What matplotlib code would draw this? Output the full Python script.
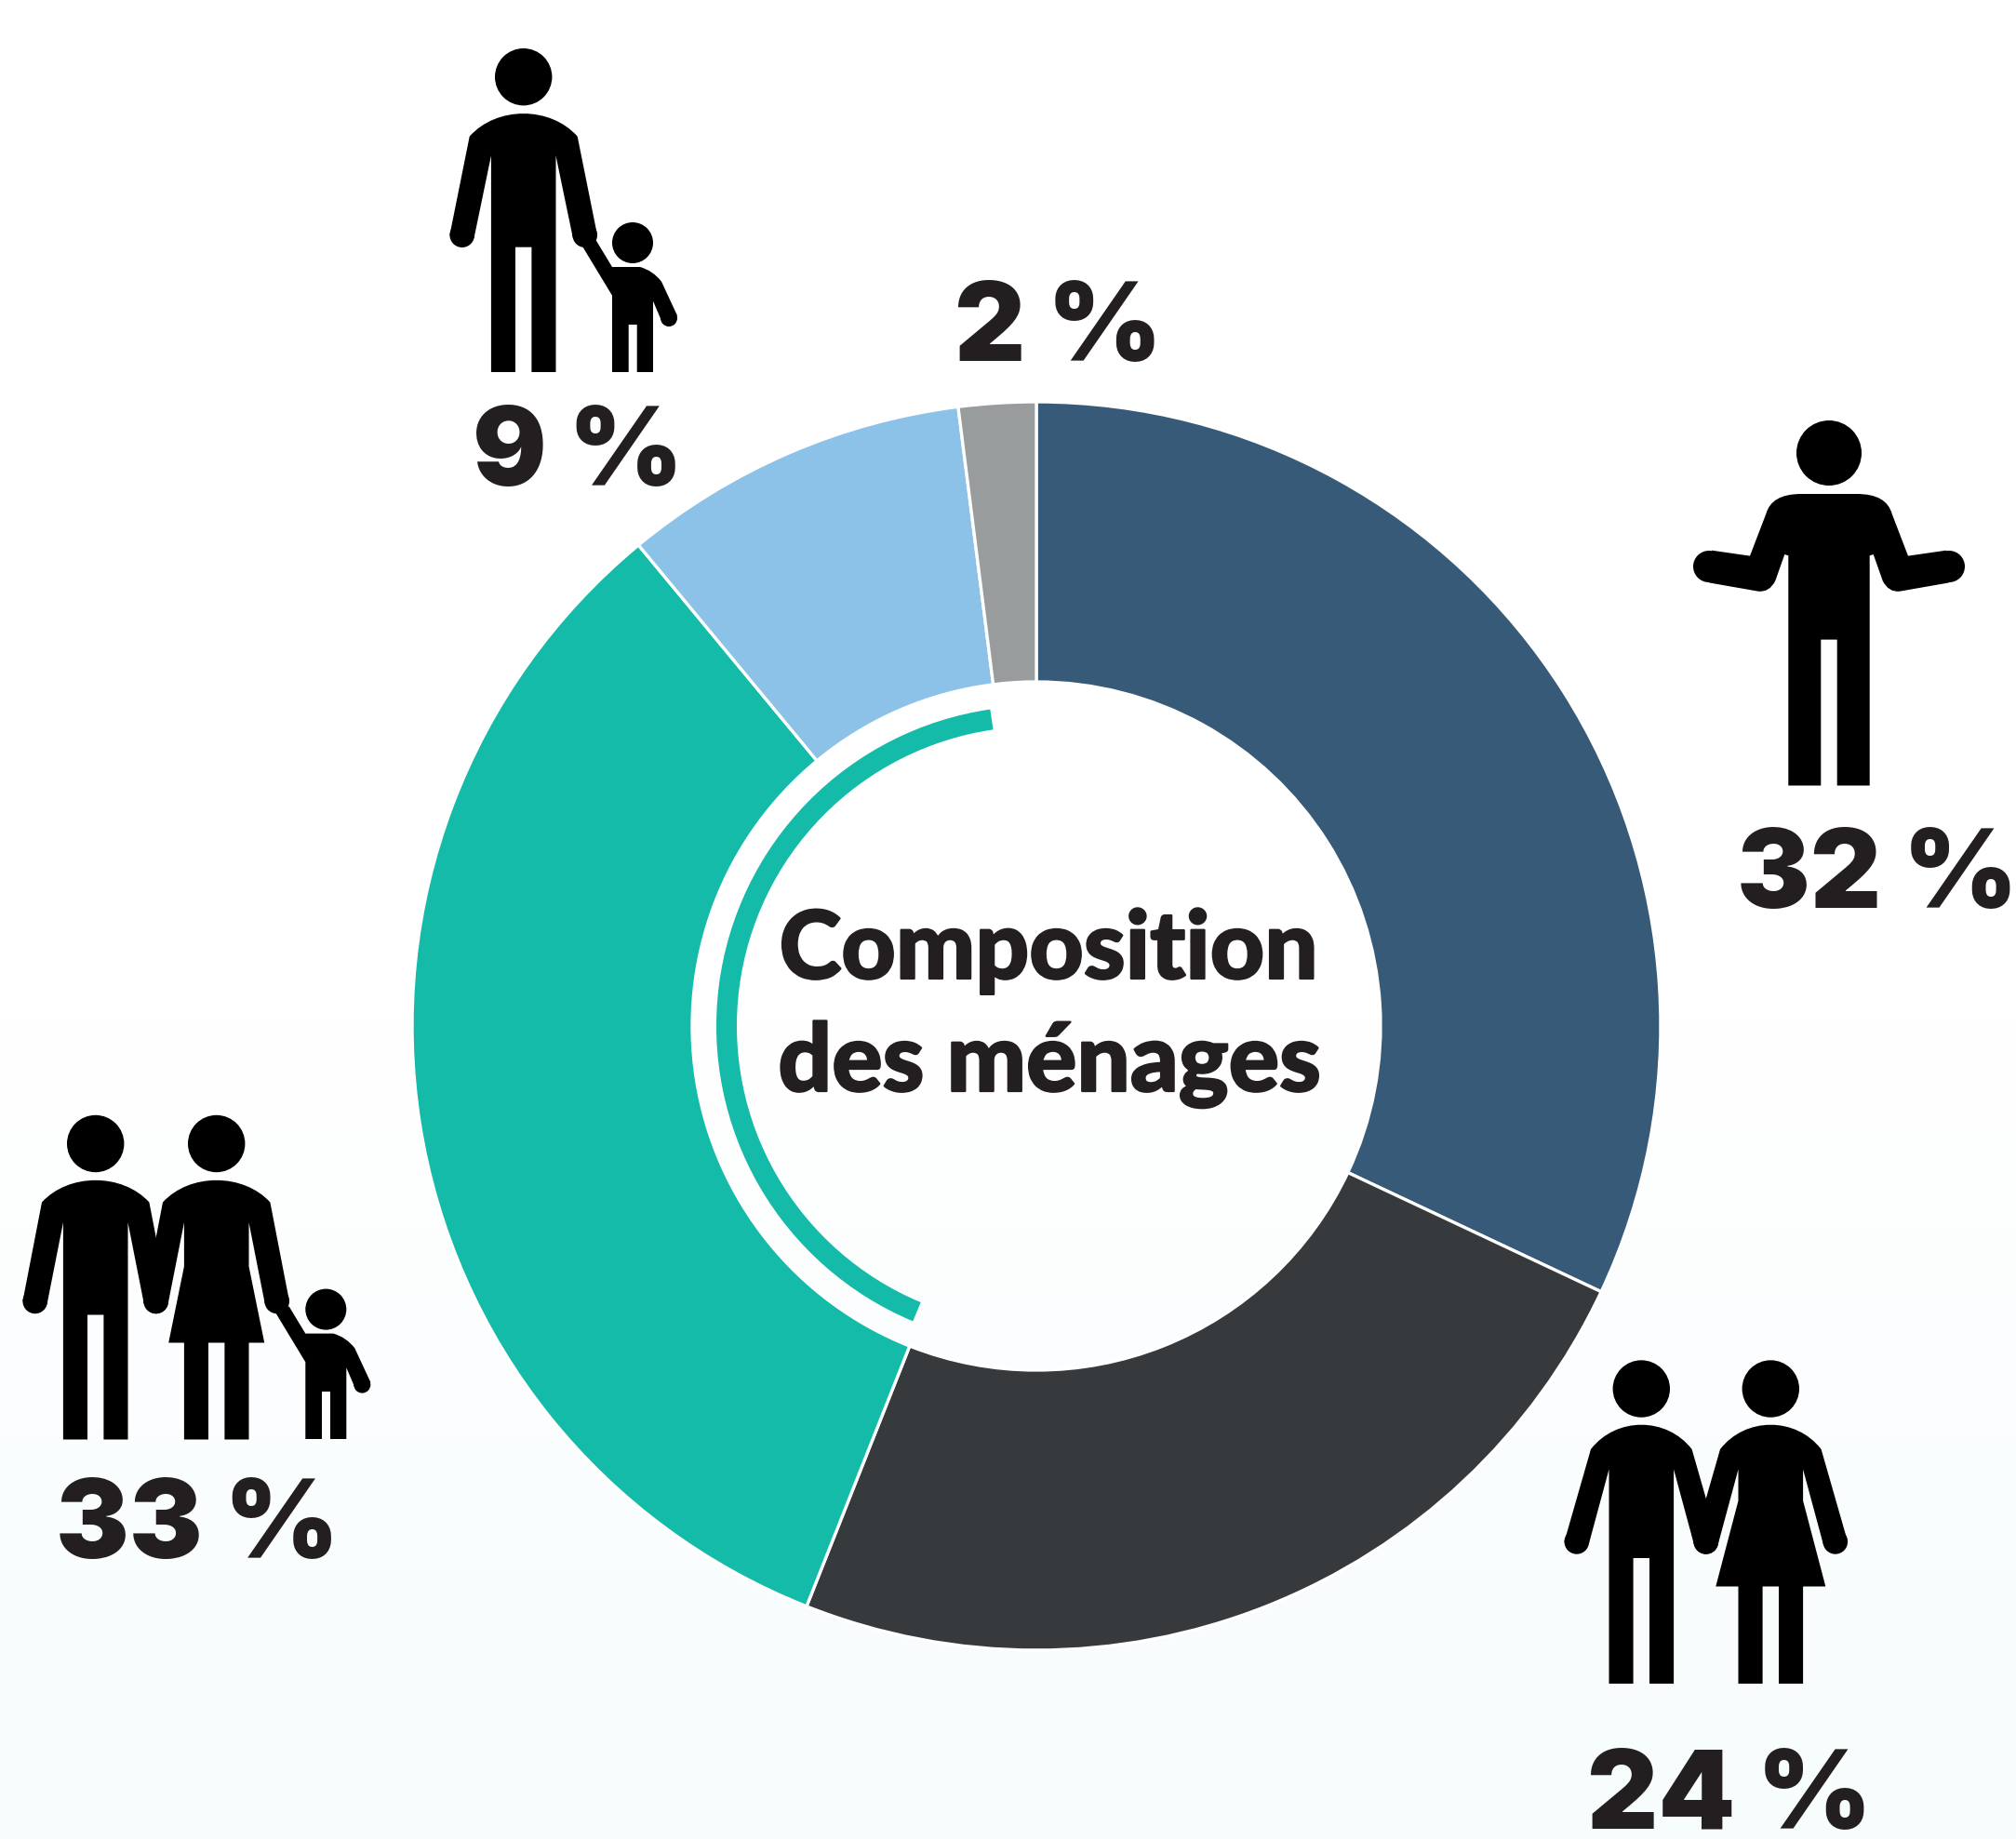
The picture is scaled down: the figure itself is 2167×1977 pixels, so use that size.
import numpy as np
import matplotlib
matplotlib.use("Agg")
import matplotlib.pyplot as plt
import matplotlib.patheffects as pe
from matplotlib.path import Path
from matplotlib.patches import PathPatch, Circle, Wedge

W, H = 2167, 1977
# data
categories = ["Personne seule", "Couple sans enfant", "Couple avec enfants", "Famille monoparentale", "Autre"]
shares = [32, 24, 33, 9, 2]
colors = ["#365a78", "#373a3d", "#14bba8", "#8dc2e8", "#989c9d"]
label_pos = [(2018, 976), (1859, 1966), (212, 1675), (621, 522), (1138, 388)]
title_lines = ["Composition", "des ménages"]

NUM_FONT = dict(family=["Inter", "Lato"], weight="black", color="#231f20", fontsize=85)
TITLE_FONT = dict(family="Lato", weight="black", color="#231f20", fontsize=73)

CX, CY, R, RIN = 1114, 1103, 671, 370
ARC_OUT, ARC_IN = 344, 322

fig = plt.figure(figsize=(W / 100, H / 100), dpi=100)
bg = fig.add_axes([0, 0, 1, 1])
bg.axis("off")
ys = np.arange(H)
t = np.interp(ys, [0, 1100, 1977], [0, 0, 1])
grad = np.ones((H, 1, 3))
grad[:, 0, 0] = 1 - t * (1 - 0xf7 / 255)
grad[:, 0, 1] = 1 - t * (1 - 0xfc / 255)
grad[:, 0, 2] = 1 - t * (1 - 0xfd / 255)
bg.imshow(grad, extent=[0, W, H, 0], aspect="auto", zorder=0)
bg.set_xlim(0, W)
bg.set_ylim(H, 0)


def fill(verts, codes=None, ax=bg):
    if codes is None:
        codes = [Path.MOVETO] + [Path.LINETO] * (len(verts) - 1)
    ax.add_patch(PathPatch(Path(verts, codes), fc="black", ec="none", zorder=3))


def disc(x, y, r):
    bg.add_patch(Circle((x, y), r, fc="black", ec="none", zorder=3))


def adult(cx, cy, sd, sy, top, hx, hy, pit, crotch, bottom, woman=None, r=13.3):
    disc(cx, cy, 30.7)
    P = lambda a, b: (cx + a, cy + b)
    half = 34.8
    gap = 8.7
    ctrl = (top - sy / 4) / 0.75
    v = [P(-sd, sy), P(-sd * .5, ctrl), P(sd * .5, ctrl), P(sd, sy)]
    c = [Path.MOVETO, Path.CURVE4, Path.CURVE4, Path.CURVE4]
    right = [P(hx + r, hy), P(hx - r * .97, hy + r * .22), P(half, pit)]
    left = [P(-half, pit), P(-hx + r * .97, hy + r * .22), P(-hx - r, hy)]
    if woman:
        waist, hemy, hem = woman
        low = [P(half, waist), P(hem, hemy), P(half, hemy), P(half, bottom), P(gap, bottom),
               P(gap, hemy), P(-gap, hemy), P(-gap, bottom), P(-half, bottom), P(-half, hemy),
               P(-hem, hemy), P(-half, waist)]
    else:
        low = [P(half, bottom), P(gap, bottom), P(gap, crotch), P(-gap, crotch),
               P(-gap, bottom), P(-half, bottom)]
    rest = right + low + left + [P(-sd, sy)]
    v += rest
    c += [Path.LINETO] * len(rest)
    fill(v, c)
    disc(cx + hx, cy + hy, r)
    disc(cx - hx, cy + hy, r)


def child(cx, cy, bottom):
    disc(cx, cy, 22)
    P = lambda a, b: (cx + a, cy + b)
    crotch = bottom - 51
    v = [P(-22, 26), P(-39.7, -3.3), P(-53.7, 4.3), P(-22, 56.7), P(-22, bottom), P(-4.3, bottom),
         P(-4.3, crotch), P(4.7, crotch), P(4.7, bottom), P(22, bottom), P(22, 62.7), P(30.7, 83),
         P(48, 78.3), P(31, 41.7), P(22, 30), P(8, 26), P(-22, 26)]
    c = [Path.MOVETO] + [Path.LINETO] * 12 + [Path.LINETO, Path.CURVE3, Path.CURVE3, Path.LINETO]
    fill(v, c)
    disc(cx + 39, cy + 81, 9)


def single(cx, cy):
    disc(cx, cy, 35)
    half = [((0, 44), Path.LINETO), ((30, 44), Path.LINETO), ((62, 44), Path.CURVE3), ((67.7, 65.5), Path.CURVE3),
            ((85, 110.6), Path.LINETO), ((126, 104.7), Path.LINETO), ((129, 139.4), Path.LINETO), ((76, 148.7), Path.LINETO),
            ((64, 150), Path.CURVE3), ((57.7, 137.4), Path.CURVE3), ((47.7, 109), Path.LINETO),
            ((43.7, 110.3), Path.LINETO), ((43.7, 357.5), Path.LINETO), ((8.7, 357.5), Path.LINETO),
            ((8.7, 200.6), Path.LINETO), ((0, 200.6), Path.LINETO)]
    for sgn in (1, -1):
        v = [(cx + sgn * p[0], cy + p[1]) for p, _ in half]
        c = [code for _, code in half]
        c[0] = Path.MOVETO
        fill(v, c)
        disc(cx + sgn * 129, cy + 122, 17)


# icons
single(1966, 487)
a24 = dict(sd=54.3, sy=65, top=38.7, hx=69.5, hy=164.4, pit=86.6, crotch=182, bottom=317)
adult(1764.3, 1493, **a24)
adult(1903.3, 1493, woman=(120.4, 212.5, 59), **a24)
a33 = dict(sd=57.7, sy=63, top=39.3, hx=65, hy=169.4, pit=84.7, crotch=184, bottom=318)
adult(102.7, 1229.5, **a33)
adult(232.7, 1229.5, woman=(132, 214, 51.5), **a33)
child(350.3, 1407.6, 139.4)
adult(562.7, 82.7, sd=58, sy=64, top=39.4, hx=66, hy=170, pit=84.7, crotch=183, bottom=317.3)
child(680, 261, 139)

# donut
ax = fig.add_axes([(CX - R) / W, 1 - (CY + R) / H, 2 * R / W, 2 * R / H])
ax.patch.set_alpha(0)
ax.pie(shares, colors=colors, startangle=90, counterclock=False, radius=1,
       wedgeprops=dict(width=1 - RIN / R, edgecolor="white", linewidth=2.4))
ax.set_xlim(-1, 1)
ax.set_ylim(-1, 1)
ax.set_aspect("equal")
cum = np.cumsum(shares) / sum(shares) * 360
ax.add_patch(Wedge((0, 0), ARC_OUT / R, 90 - cum[3] + 1.1, 90 - cum[1] - 1.1,
                   width=(ARC_OUT - ARC_IN) / R, fc=colors[2], ec="none"))

# labels
for v, (x, y) in zip(shares, label_pos):
    bg.text(x, y, f"{v} %", ha="center", va="baseline", zorder=4, **NUM_FONT)
for line, x, y in zip(title_lines, (1127, 1128), (1052, 1173)):
    bg.text(x, y, line, ha="center", va="baseline", zorder=4, **TITLE_FONT,
            path_effects=[pe.withStroke(linewidth=1.6, foreground="#231f20")])

fig.savefig("out.png", dpi=100)
